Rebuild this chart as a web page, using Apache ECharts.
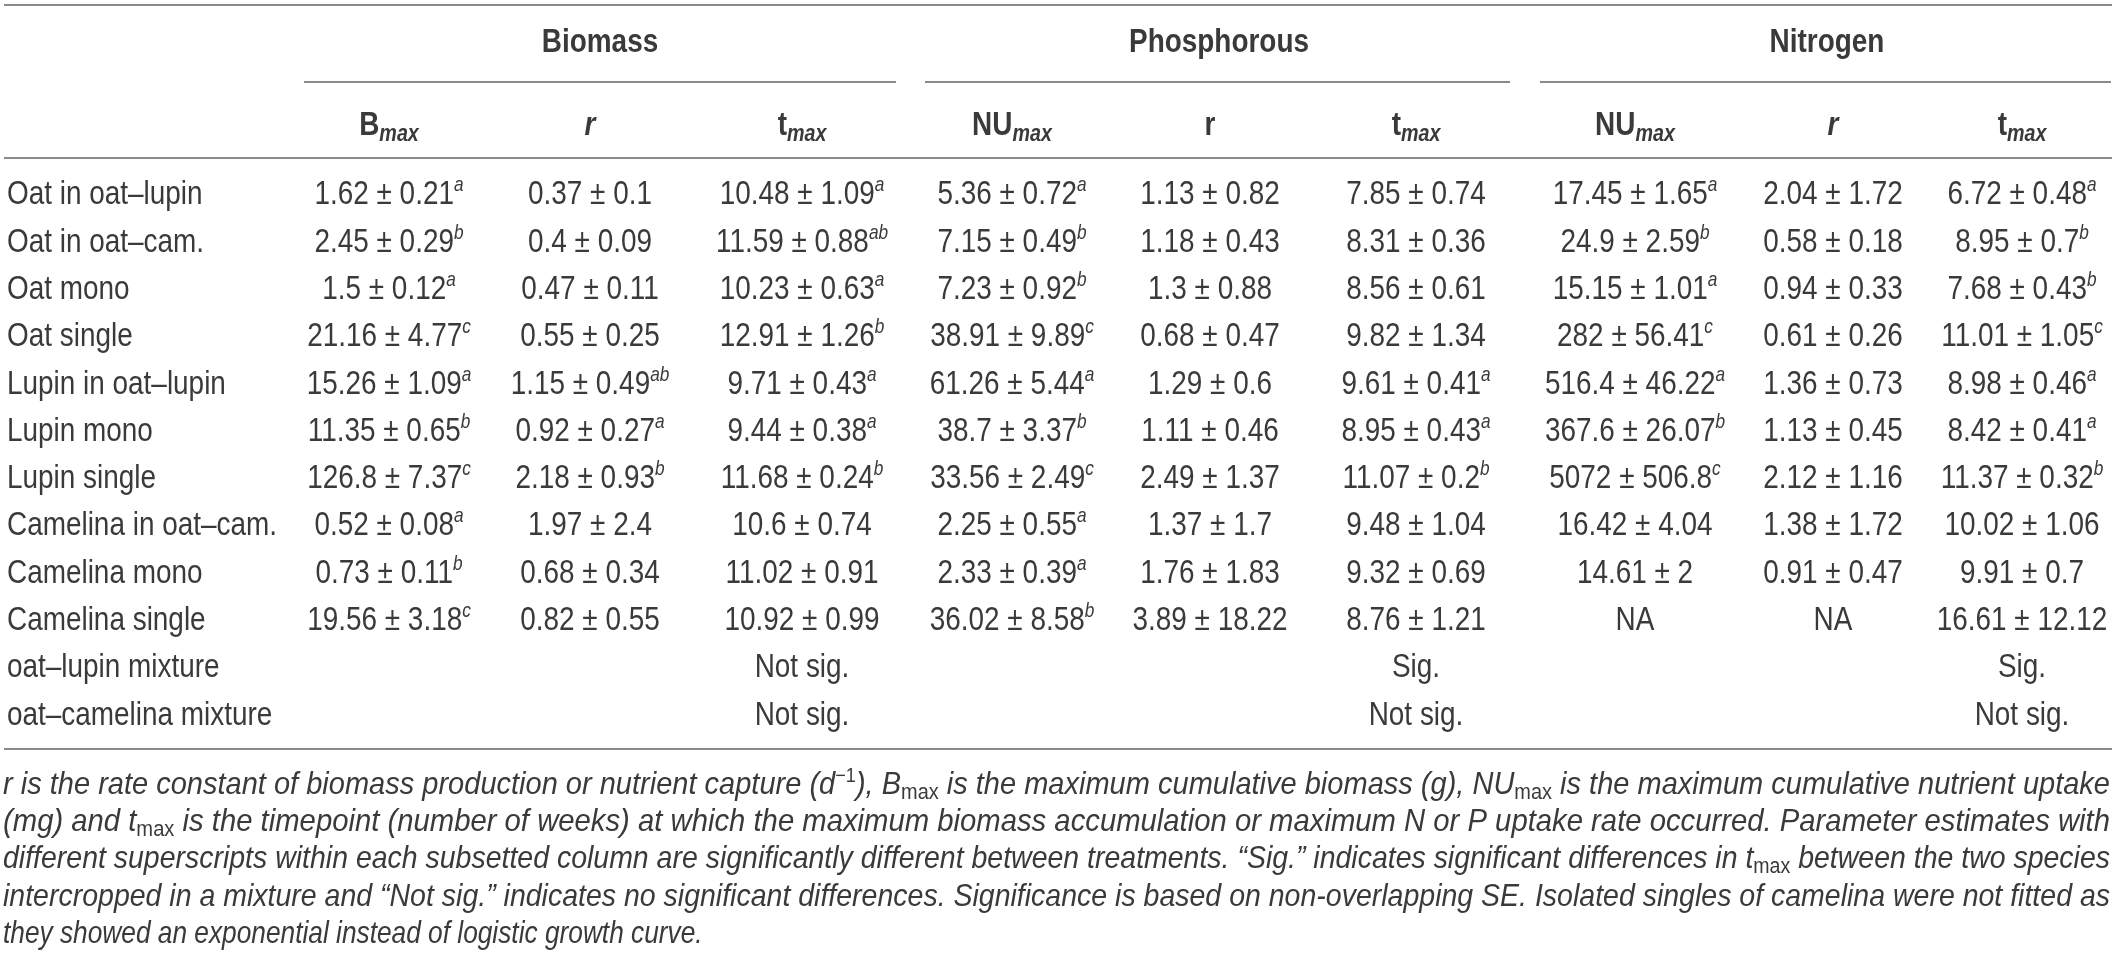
<!DOCTYPE html>
<html><head><meta charset="utf-8">
<script src="https://cdn.jsdelivr.net/npm/echarts/dist/echarts.min.js"></script>
<style>html,body{margin:0;padding:0;background:#fff}#c{width:2120px;height:954px}</style>
</head><body><div id="c"></div>
<script>
// ---------------- data ----------------
const rowLabels = ['Oat in oat–lupin','Oat in oat–cam.','Oat mono','Oat single','Lupin in oat–lupin','Lupin mono','Lupin single','Camelina in oat–cam.','Camelina mono','Camelina single','oat–lupin mixture','oat–camelina mixture'];
const groupLabels = ['Biomass','Phosphorous','Nitrogen'];
// [main, subscript, italic main]
const colHeads = [['B','max',false],['r','',true],['t','max',false],['NU','max',false],['r','',false],['t','max',false],['NU','max',false],['r','',true],['t','max',false]];

const bioBmax = ['1.62 ± 0.21^a','2.45 ± 0.29^b','1.5 ± 0.12^a','21.16 ± 4.77^c','15.26 ± 1.09^a','11.35 ± 0.65^b','126.8 ± 7.37^c','0.52 ± 0.08^a','0.73 ± 0.11^b','19.56 ± 3.18^c','',''];
const bioR = ['0.37 ± 0.1','0.4 ± 0.09','0.47 ± 0.11','0.55 ± 0.25','1.15 ± 0.49^ab','0.92 ± 0.27^a','2.18 ± 0.93^b','1.97 ± 2.4','0.68 ± 0.34','0.82 ± 0.55','',''];
const bioTmax = ['10.48 ± 1.09^a','11.59 ± 0.88^ab','10.23 ± 0.63^a','12.91 ± 1.26^b','9.71 ± 0.43^a','9.44 ± 0.38^a','11.68 ± 0.24^b','10.6 ± 0.74','11.02 ± 0.91','10.92 ± 0.99','Not sig.','Not sig.'];
const phoNU = ['5.36 ± 0.72^a','7.15 ± 0.49^b','7.23 ± 0.92^b','38.91 ± 9.89^c','61.26 ± 5.44^a','38.7 ± 3.37^b','33.56 ± 2.49^c','2.25 ± 0.55^a','2.33 ± 0.39^a','36.02 ± 8.58^b','',''];
const phoR = ['1.13 ± 0.82','1.18 ± 0.43','1.3 ± 0.88','0.68 ± 0.47','1.29 ± 0.6','1.11 ± 0.46','2.49 ± 1.37','1.37 ± 1.7','1.76 ± 1.83','3.89 ± 18.22','',''];
const phoTmax = ['7.85 ± 0.74','8.31 ± 0.36','8.56 ± 0.61','9.82 ± 1.34','9.61 ± 0.41^a','8.95 ± 0.43^a','11.07 ± 0.2^b','9.48 ± 1.04','9.32 ± 0.69','8.76 ± 1.21','Sig.','Not sig.'];
const nitNU = ['17.45 ± 1.65^a','24.9 ± 2.59^b','15.15 ± 1.01^a','282 ± 56.41^c','516.4 ± 46.22^a','367.6 ± 26.07^b','5072 ± 506.8^c','16.42 ± 4.04','14.61 ± 2','NA','',''];
const nitR = ['2.04 ± 1.72','0.58 ± 0.18','0.94 ± 0.33','0.61 ± 0.26','1.36 ± 0.73','1.13 ± 0.45','2.12 ± 1.16','1.38 ± 1.72','0.91 ± 0.47','NA','',''];
const nitTmax = ['6.72 ± 0.48^a','8.95 ± 0.7^b','7.68 ± 0.43^b','11.01 ± 1.05^c','8.98 ± 0.46^a','8.42 ± 0.41^a','11.37 ± 0.32^b','10.02 ± 1.06','9.91 ± 0.7','16.61 ± 12.12','Sig.','Not sig.'];
const columns = [bioBmax, bioR, bioTmax, phoNU, phoR, phoTmax, nitNU, nitR, nitTmax];

const captionLines = [
  [['ci','r is the rate constant of biomass production or nutrient capture (d'],['cu','−1'],['ci','), B'],['cs','max'],['ci',' is the maximum cumulative biomass (g), NU'],['cs','max'],['ci',' is the maximum cumulative nutrient uptake']],
  [['ci','(mg) and t'],['cs','max'],['ci',' is the timepoint (number of weeks) at which the maximum biomass accumulation or maximum N or P uptake rate occurred. Parameter estimates with']],
  [['ci','different superscripts within each subsetted column are significantly different between treatments. “Sig.” indicates significant differences in t'],['cs','max'],['ci',' between the two species']],
  [['ci','intercropped in a mixture and “Not sig.” indicates no significant differences. Significance is based on non-overlapping SE. Isolated singles of camelina were not fitted as']],
  [['ci','they showed an exponential instead of logistic growth curve.']]
];

// ---------------- layout ----------------
const W = 2120, H = 954;
const LABEL_X = 7;
const COL_X = [389, 590, 802, 1012, 1210, 1416, 1635, 1833, 2022];
const GROUP_X = [600, 1219, 1827];
const GROUP_LINES = [[304, 896], [925, 1510], [1540, 2111]];
const Y_TOP = 5, Y_GROUP = 43, Y_GLINE = 82, Y_HEAD = 126, Y_HLINE = 158, Y_BLINE = 749;
const ROW0 = 195, ROWH = 47.3;
const CAP_Y = [785, 822, 859, 897, 934];
const LINE_L = 4, LINE_R = 2112;
const TXT = '#3a3a3a', RULE = '#8a8a8a';
const FS = 34, CFS = 32;

// ---------------- fonts ----------------
const ctx = document.createElement('canvas').getContext('2d');
function tw(font, s) { ctx.font = font; return ctx.measureText(s).width; }
const FAM = '"Liberation Sans Narrow", "Liberation Sans", Arial, sans-serif';
const SX = Math.max(0.7, Math.min(1.25, 270 / tw(FS + 'px ' + FAM, 'Camelina in oat–cam.')));

const RICH = {
  n: {fontFamily: FAM, fontSize: FS, fill: TXT, lineHeight: 40},
  s: {fontFamily: FAM, fontSize: 21, fontStyle: 'italic', fill: TXT, lineHeight: 20, verticalAlign: 'top'},
  hb: {fontFamily: FAM, fontSize: FS, fontWeight: 'bold', fill: TXT, lineHeight: 40},
  hi: {fontFamily: FAM, fontSize: FS, fontWeight: 'bold', fontStyle: 'italic', fill: TXT, lineHeight: 40},
  hs: {fontFamily: FAM, fontSize: 24, fontWeight: 'bold', fontStyle: 'italic', fill: TXT, lineHeight: 24, verticalAlign: 'bottom'},
  ci: {fontFamily: FAM, fontSize: CFS, fontStyle: 'italic', fill: TXT, lineHeight: 38},
  cu: {fontFamily: FAM, fontSize: 20, fill: TXT, lineHeight: 22, verticalAlign: 'top'},
  cs: {fontFamily: FAM, fontSize: 22, fill: TXT, lineHeight: 24, verticalAlign: 'bottom'}
};
function fontOf(st) {
  const r = RICH[st];
  return (r.fontStyle || 'normal') + ' ' + (r.fontWeight || 'normal') + ' ' + r.fontSize + 'px ' + FAM;
}
function cellRich(v) {
  const p = v.split('^');
  return '{n|' + p[0] + '}' + (p[1] ? '{s|' + p[1] + '}' : '');
}

// ---------------- cells ----------------
const cells = [];
const data = [];
rowLabels.forEach(function (lab, i) {
  cells.push({text: '{n|' + lab + '}', align: 'left'});
  data.push([LABEL_X, i]);
  columns.forEach(function (col, j) {
    if (col[i]) {
      cells.push({text: cellRich(col[i]), align: 'center'});
      data.push([COL_X[j], i]);
    }
  });
});

// ---------------- graphic (rules, headers, caption) ----------------
const graphics = [];
function hline(y, x1, x2) {
  graphics.push({type: 'line', silent: true, shape: {x1: x1, y1: y, x2: x2, y2: y}, style: {stroke: RULE, lineWidth: 2}});
}
hline(Y_TOP, LINE_L, LINE_R);
hline(Y_HLINE, LINE_L, LINE_R);
hline(Y_BLINE, LINE_L, LINE_R);
GROUP_LINES.forEach(function (g) { hline(Y_GLINE, g[0], g[1]); });
groupLabels.forEach(function (g, k) {
  graphics.push({type: 'text', silent: true, x: GROUP_X[k], y: Y_GROUP, scaleX: SX,
    style: {text: '{hb|' + g + '}', rich: RICH, align: 'center', verticalAlign: 'middle', fill: TXT}});
});
colHeads.forEach(function (h, j) {
  const t = '{' + (h[2] ? 'hi' : 'hb') + '|' + h[0] + '}' + (h[1] ? '{hs|' + h[1] + '}' : '');
  graphics.push({type: 'text', silent: true, x: COL_X[j], y: Y_HEAD, scaleX: SX,
    style: {text: t, rich: RICH, align: 'center', verticalAlign: 'middle', fill: TXT}});
});
captionLines.forEach(function (segs, k) {
  let wsum = 0;
  segs.forEach(function (s) { wsum += tw(fontOf(s[0]), s[1]); });
  const justify = k < captionLines.length - 1;
  const sc = justify ? (LINE_R - 2 - 3) / wsum : SX;
  const t = segs.map(function (s) { return '{' + s[0] + '|' + s[1] + '}'; }).join('');
  graphics.push({type: 'text', silent: true, x: 3, y: CAP_Y[k], scaleX: sc,
    style: {text: t, rich: RICH, align: 'left', verticalAlign: 'middle', fill: TXT}});
});

// ---------------- chart ----------------
const chart = echarts.init(document.getElementById('c'));
const bandTop = ROW0 - ROWH / 2;
chart.setOption({
  animation: false,
  backgroundColor: '#fff',
  grid: {left: 0, right: 0, top: bandTop, height: ROWH * rowLabels.length, containLabel: false},
  xAxis: {type: 'value', min: 0, max: W, show: false},
  yAxis: {type: 'category', data: rowLabels, inverse: true, show: false},
  graphic: graphics,
  series: [{
    type: 'custom',
    clip: false,
    data: data,
    renderItem: function (params, api) {
      const c = cells[params.dataIndex];
      const p = api.coord([api.value(0), api.value(1)]);
      return {type: 'text', x: p[0], y: p[1], scaleX: SX,
        style: {text: c.text, rich: RICH, align: c.align, verticalAlign: 'middle', fill: TXT}};
    }
  }]
});
</script></body></html>
